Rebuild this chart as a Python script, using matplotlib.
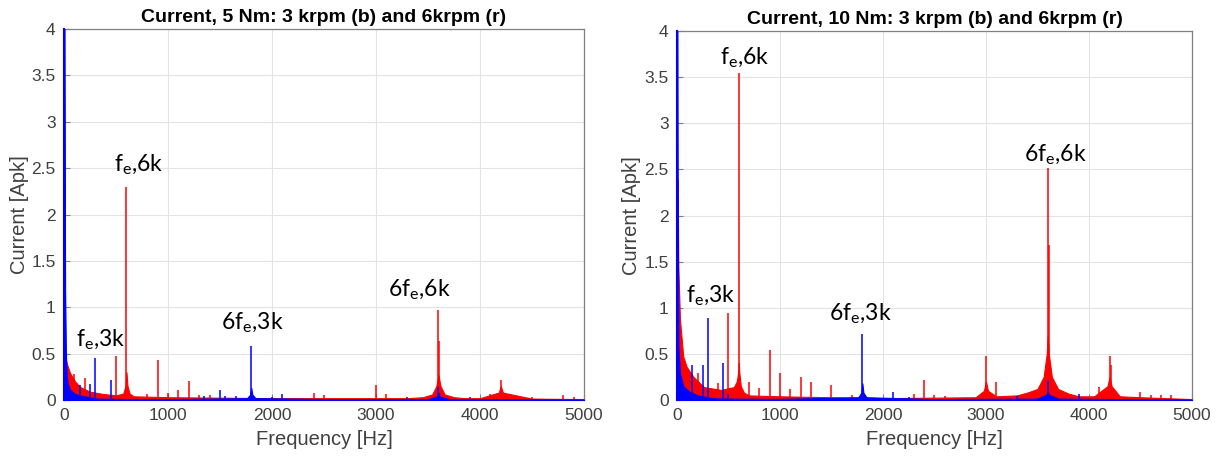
import matplotlib
matplotlib.use('Agg')
import matplotlib.pyplot as plt

# Espectro de corriente, 5 Nm
# piso de ruido (frecuencia [Hz], amplitud [Apk]) y picos
piso5_r_f = [0, 3, 10, 30, 58, 106, 154, 250, 375, 500, 570, 590, 600, 610, 630, 670, 1000, 1500, 2000,
             2800, 3300, 3450, 3540, 3580, 3600, 3620, 3660, 3750, 3850, 4000, 4180, 4200, 4220, 4500, 5000]
piso5_r_a = [0.0, 0.47, 0.47, 0.38, 0.29, 0.2, 0.14, 0.09, 0.065, 0.05, 0.07, 0.15, 0.3, 0.15, 0.07, 0.04, 0.03,
             0.025, 0.02, 0.02, 0.02, 0.03, 0.06, 0.15, 0.27, 0.15, 0.06, 0.03, 0.02, 0.02, 0.08, 0.15, 0.08, 0.015, 0.01]
picos5_r_f = [100, 200, 400, 500, 600, 800, 900, 1000, 1100, 1200, 1300, 1400, 2400, 2500,
              3000, 3100, 3560, 3600, 3610, 4100, 4200, 4500, 4800, 4900]
picos5_r_a = [0.28, 0.24, 0.06, 0.47, 2.3, 0.07, 0.43, 0.08, 0.11, 0.2, 0.05, 0.05, 0.08, 0.05,
              0.16, 0.07, 0.06, 0.97, 0.64, 0.07, 0.22, 0.03, 0.05, 0.03]

piso5_b_f = [0, 3, 10, 18, 26, 40, 58, 100, 150, 200, 285, 320, 500, 1000, 1760, 1790, 1800, 1810, 1840, 2500,
             3500, 3590, 3600, 3610, 3700, 5000]
piso5_b_a = [4.2, 4.2, 1.2, 0.5, 0.25, 0.16, 0.11, 0.07, 0.05, 0.04, 0.02, 0.015, 0.012, 0.01, 0.02, 0.06,
             0.13, 0.06, 0.02, 0.01, 0.01, 0.04, 0.08, 0.04, 0.01, 0.005]
picos5_b_f = [12, 150, 250, 300, 450, 1350, 1500, 1550, 1650, 1800, 2000, 2100, 3300, 3600, 3900]
picos5_b_a = [1.15, 0.16, 0.17, 0.45, 0.22, 0.04, 0.11, 0.04, 0.04, 0.58, 0.03, 0.07, 0.03, 0.14, 0.03]

# Espectro de corriente, 10 Nm
piso10_r_f = [0, 3, 7, 13, 29, 61, 94, 160, 262, 427, 553, 580, 595, 600, 605, 620, 650, 700, 1000, 1500,
              2000, 2900, 2980, 3000, 3020, 3100, 3300, 3400, 3500, 3560, 3590, 3600, 3610, 3640, 3700,
              3800, 3900, 4050, 4180, 4200, 4220, 4300, 4500, 5000]
piso10_r_a = [0.0, 2.4, 2.38, 1.44, 0.87, 0.47, 0.36, 0.25, 0.14, 0.11, 0.14, 0.2, 0.3, 0.4, 0.3, 0.15, 0.08,
              0.05, 0.04, 0.03, 0.02, 0.03, 0.1, 0.2, 0.1, 0.04, 0.05, 0.08, 0.12, 0.25, 0.5, 0.7, 0.5, 0.25,
              0.12, 0.07, 0.04, 0.04, 0.15, 0.25, 0.15, 0.04, 0.03, 0.01]
picos10_r_f = [100, 200, 400, 500, 600, 700, 800, 900, 1000, 1100, 1200, 1300, 1500, 1700, 2300, 2400,
               2500, 2600, 3000, 3100, 3600, 3610, 4100, 4200, 4210, 4500, 4600, 4700, 4800]
picos10_r_a = [0.3, 0.29, 0.18, 0.94, 3.54, 0.2, 0.13, 0.54, 0.29, 0.12, 0.25, 0.2, 0.16, 0.05, 0.07, 0.22,
               0.05, 0.04, 0.48, 0.19, 2.52, 1.68, 0.14, 0.48, 0.38, 0.09, 0.05, 0.05, 0.05]

piso10_b_f = [0, 3, 7, 13, 29, 61, 120, 200, 300, 340, 500, 1000, 1760, 1790, 1800, 1810, 1840, 2500,
              3500, 3590, 3600, 3610, 3700, 5000]
piso10_b_a = [4.2, 4.2, 2.2, 0.58, 0.29, 0.15, 0.09, 0.05, 0.03, 0.02, 0.015, 0.012, 0.03, 0.08, 0.18, 0.08,
              0.03, 0.01, 0.015, 0.06, 0.1, 0.06, 0.015, 0.005]
picos10_b_f = [10, 150, 250, 300, 450, 500, 1800, 2100, 2250, 3300, 3600, 3900]
picos10_b_a = [2.2, 0.38, 0.38, 0.89, 0.4, 0.07, 0.72, 0.09, 0.03, 0.04, 0.22, 0.06]

# Etiquetas de los armonicos: (texto, frecuencia, amplitud)
etiq5 = [(r'$\mathregular{f_e}$,6k', 721, 2.53), (r'$\mathregular{f_e}$,3k', 356, 0.65),
         (r'$\mathregular{6f_e}$,3k', 1808, 0.83), (r'$\mathregular{6f_e}$,6k', 3413, 1.19)]
etiq10 = [(r'$\mathregular{f_e}$,6k', 660, 3.71), (r'$\mathregular{f_e}$,3k', 330, 1.13),
          (r'$\mathregular{6f_e}$,3k', 1777, 0.93), (r'$\mathregular{6f_e}$,6k', 3670, 2.66)]

titulos = ['Current, 5 Nm: 3 krpm (b) and 6krpm (r)', 'Current, 10 Nm: 3 krpm (b) and 6krpm (r)']

plt.rcParams['font.family'] = ['Liberation Sans', 'DejaVu Sans']

fig = plt.figure(figsize=(12.2, 4.58), dpi=100)
ax1 = fig.add_axes([0.0525, 0.1266, 0.4262, 0.810])
ax2 = fig.add_axes([0.5549, 0.1266, 0.4221, 0.8057])

datos = [
    (ax1, piso5_r_f, piso5_r_a, picos5_r_f, picos5_r_a, piso5_b_f, piso5_b_a, picos5_b_f, picos5_b_a, etiq5, titulos[0]),
    (ax2, piso10_r_f, piso10_r_a, picos10_r_f, picos10_r_a, piso10_b_f, piso10_b_a, picos10_b_f, picos10_b_a, etiq10, titulos[1]),
]

for ax, rf, ra, rpf, rpa, bf, ba, bpf, bpa, etiq, tit in datos:
    # rojo (6 krpm) primero, azul (3 krpm) encima
    ax.fill_between(rf, 0, ra, color='red', lw=0.8, zorder=2)
    ax.vlines(rpf, 0, rpa, color='red', lw=1.1, zorder=2)
    ax.fill_between(bf, 0, ba, color='blue', lw=0.8, zorder=3)
    ax.vlines(bpf, 0, bpa, color='blue', lw=1.1, zorder=3)
    ax.plot([0, 0], [0, 4], color='blue', lw=1.5, zorder=4, clip_on=False)

    for txt, fx, fy in etiq:
        ax.text(fx, fy, txt, ha='center', va='center', fontsize=16.5, family='Lato', color='black', zorder=5)

    ax.set_xlim(0, 5000)
    ax.set_ylim(0, 4)
    ax.set_xticks([0, 1000, 2000, 3000, 4000, 5000])
    ax.set_yticks([0, 0.5, 1, 1.5, 2, 2.5, 3, 3.5, 4])
    ax.set_yticklabels(['0', '0.5', '1', '1.5', '2', '2.5', '3', '3.5', '4'])
    ax.grid(True, color='#e3e3e3', lw=0.8, zorder=0)
    ax.set_axisbelow(True)
    ax.tick_params(direction='in', length=4, colors='#808080', labelcolor='#404040', labelsize=12.5, pad=6)
    for s in ax.spines.values():
        s.set_color('#808080')
        s.set_linewidth(0.9)
    ax.set_xlabel('Frequency [Hz]', fontsize=14.5, color='#404040', labelpad=5)
    ax.set_ylabel('Current [Apk]', fontsize=14.5, color='#404040', labelpad=2)
    ax.set_title(tit, fontsize=14, fontweight='bold', color='black', pad=5)

fig.savefig('out.png', dpi=100)
